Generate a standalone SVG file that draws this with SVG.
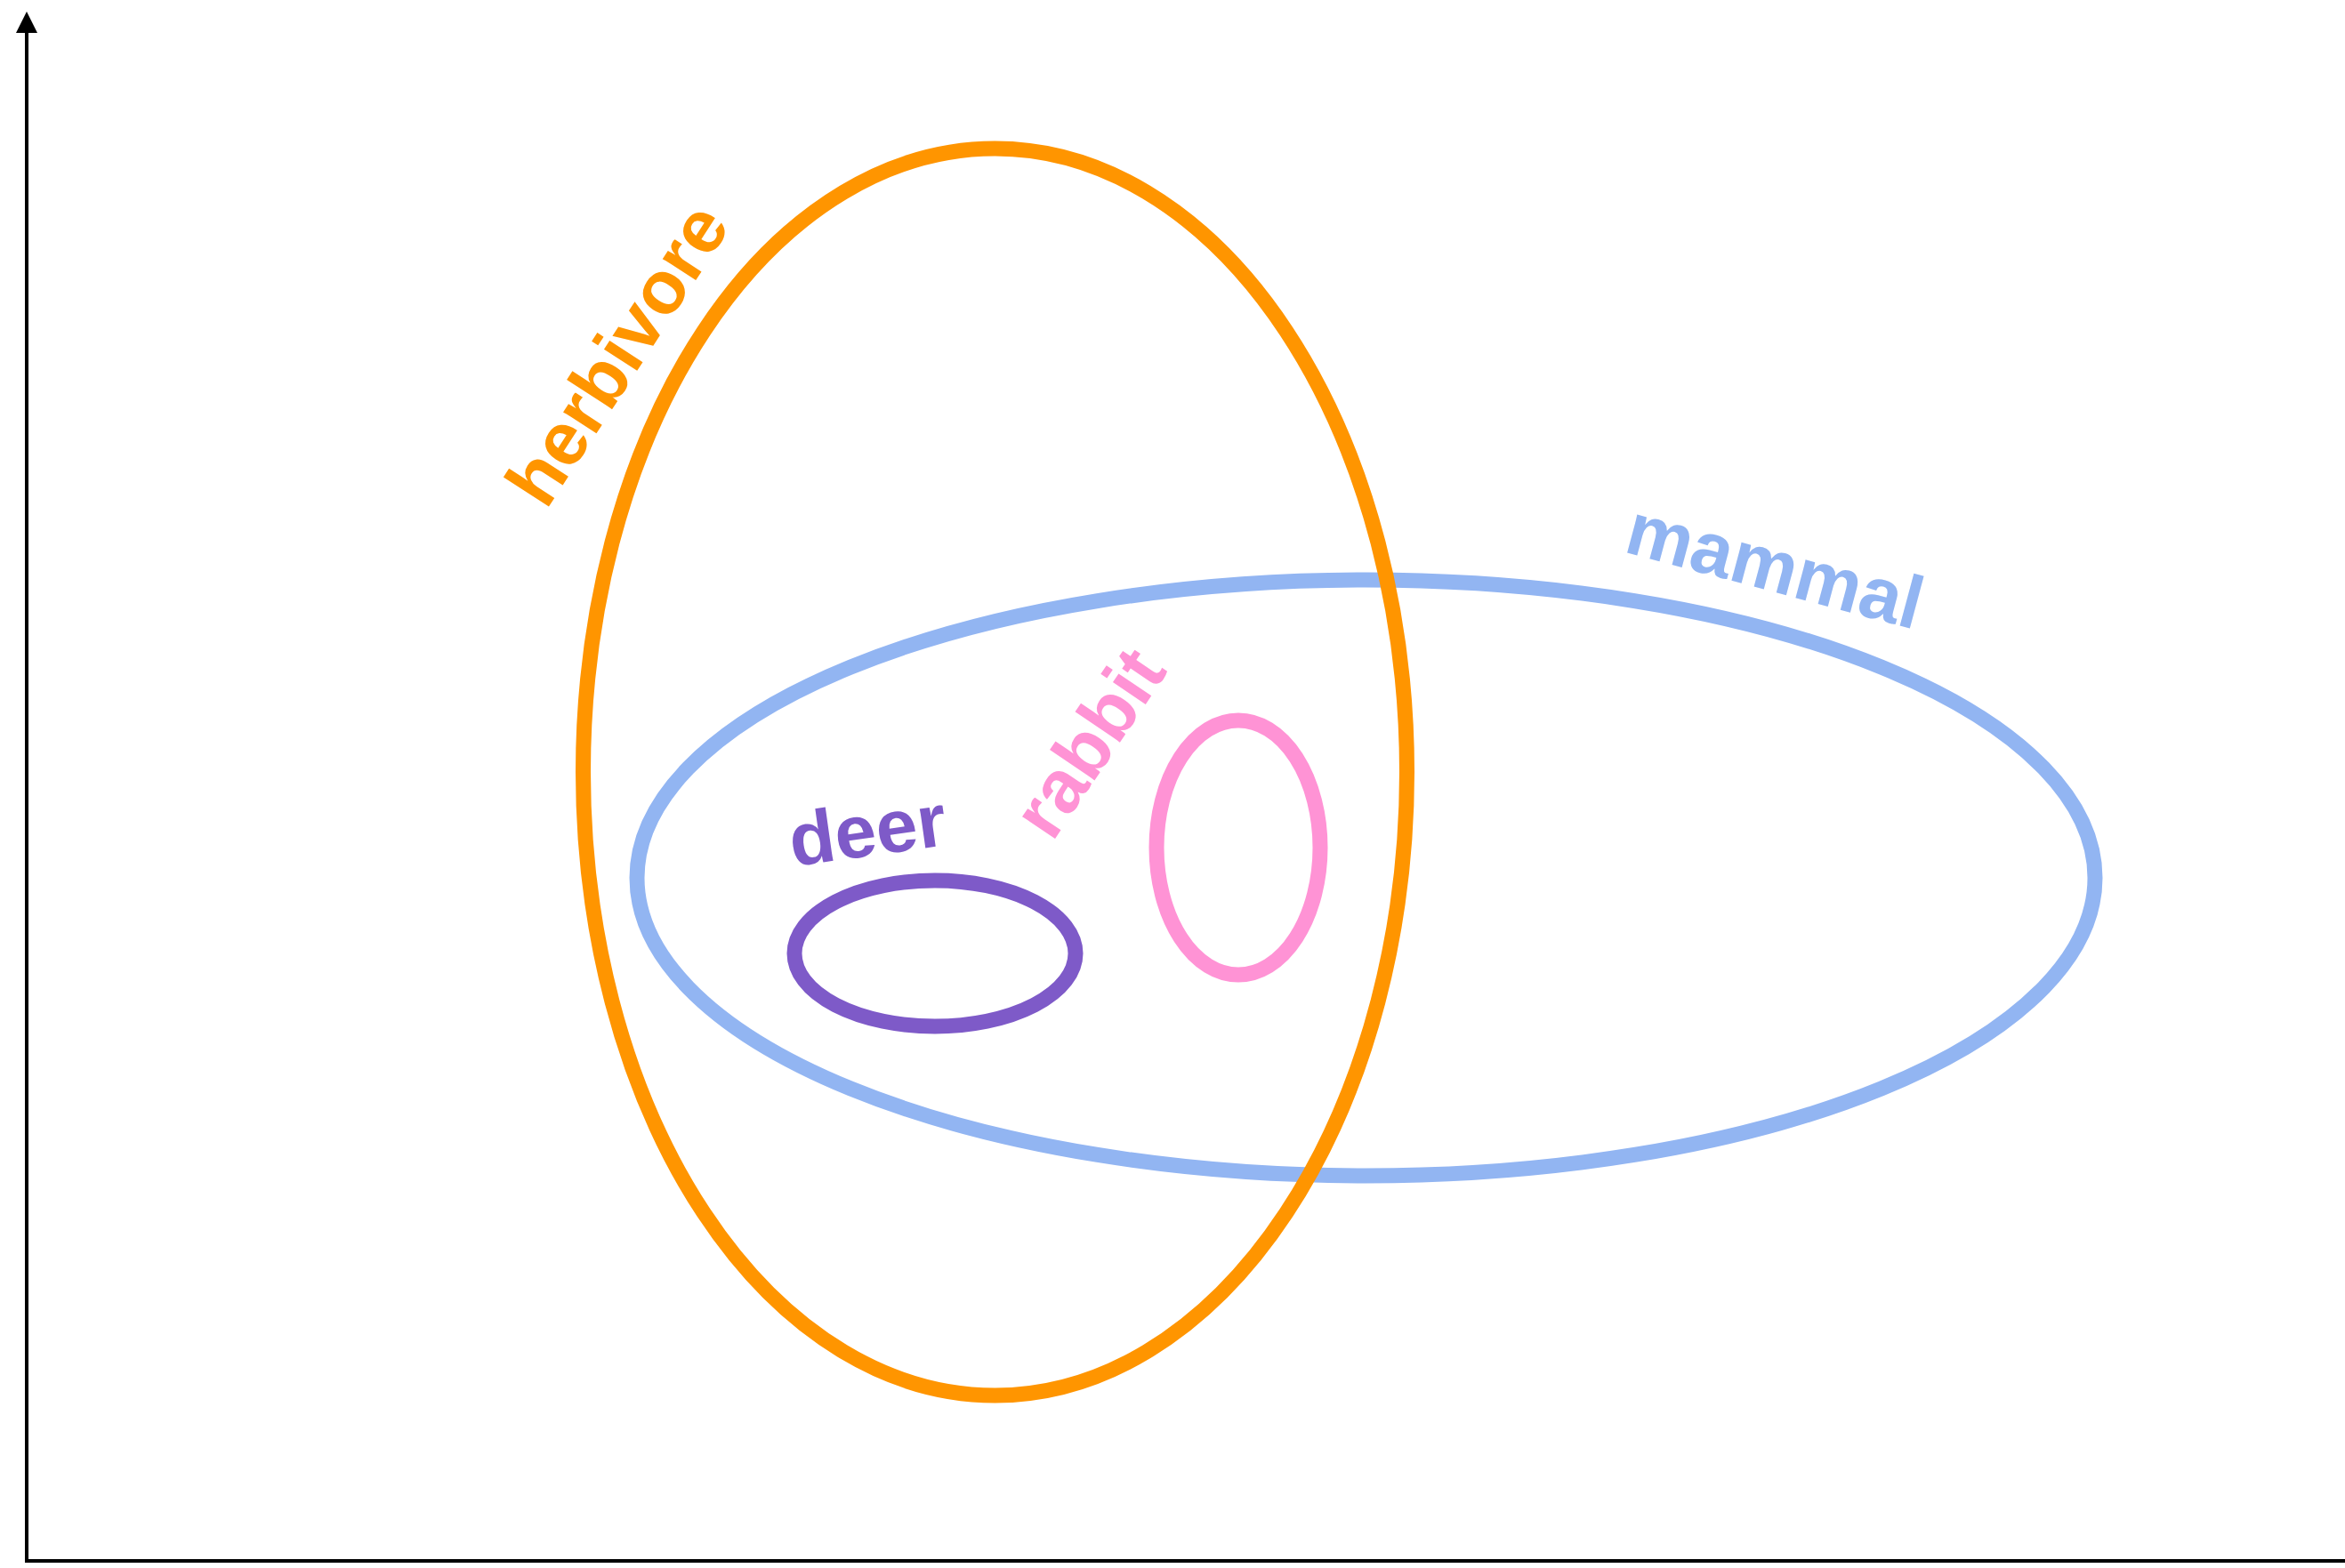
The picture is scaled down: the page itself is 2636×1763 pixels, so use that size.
<svg xmlns="http://www.w3.org/2000/svg" width="2636" height="1763" viewBox="0 0 2636 1763">
  <style>
    .set { fill: none; stroke-width: 17; }
    .lbl { font-family: "Liberation Sans", Arial, Helvetica, sans-serif; font-weight: bold; font-size: 84px; text-anchor: middle; }
    .axis { stroke: #000; stroke-width: 4; fill: none; }
  </style>
  <rect width="2636" height="1763" fill="#ffffff"/>

  <!-- axes -->
  <g id="axes">
    <line class="axis" x1="30" y1="1755" x2="30" y2="34"/>
    <line class="axis" x1="28" y1="1755" x2="2636" y2="1755"/>
    <polygon points="30,13 18,37 42,37" fill="#000"/>
  </g>

  <g id="mammal">
    <ellipse class="set" cx="1535.5" cy="987" rx="819.5" ry="335" stroke="#92b5f2"/>
    <text class="lbl" fill="#92b5f2" font-size="87" transform="translate(1988,664) rotate(15)">mammal</text>
  </g>

  <g id="herbivore">
    <ellipse class="set" cx="1118.5" cy="868" rx="463" ry="701" stroke="#ff9500"/>
    <text class="lbl" fill="#ff9500" transform="translate(718,414) rotate(-57)">herbivore</text>
  </g>

  <g id="deer">
    <ellipse class="set" cx="1051" cy="1072" rx="158" ry="82" stroke="#7e5ac8"/>
    <text class="lbl" fill="#7e5ac8" font-size="87" transform="translate(979,962) rotate(-8)">deer</text>
  </g>

  <g id="rabbit">
    <ellipse class="set" cx="1392" cy="953" rx="92" ry="143" stroke="#ff93d5"/>
    <text class="lbl" fill="#ff93d5" font-size="86" transform="translate(1248,851) rotate(-56)">rabbit</text>
  </g>

  <g id="connectors"/>
</svg>
